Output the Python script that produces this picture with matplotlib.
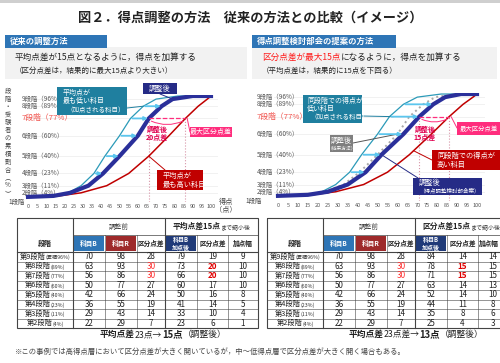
import matplotlib
matplotlib.use("Agg")
import matplotlib.pyplot as plt
from matplotlib.patches import Rectangle

plt.rcParams['font.family'] = ['Noto Sans CJK JP', 'DejaVu Sans']

# ---- table data (rows: 9th stage -> 2nd stage)
stage_names = ['第9段階', '第8段階', '第7段階', '第6段階', '第5段階', '第4段階', '第3段階', '第2段階']
stage_share = ['(累積96%)', '(89%)', '(77%)', '(60%)', '(40%)', '(23%)', '(11%)', '(4%)']
subj_b = [70, 63, 56, 50, 42, 36, 29, 22]
subj_r = [98, 93, 86, 77, 66, 55, 43, 29]
gap_before = [28, 30, 30, 27, 24, 19, 14, 7]
b_after_mean = [79, 73, 66, 60, 50, 41, 33, 23]
gap_after_mean = [19, 20, 20, 17, 16, 14, 10, 6]
add_mean = [9, 10, 10, 10, 8, 5, 4, 1]
b_after_max = [84, 78, 71, 63, 52, 44, 35, 25]
gap_after_max = [14, 15, 15, 14, 14, 11, 8, 4]
add_max = [14, 15, 15, 13, 10, 8, 6, 3]

# ---- curve data (cumulative share % vs score)
chart_labels = ['9段階（96%）', '8段階（89%）', '7段階（77%）', '6段階（60%）',
                '5段階（40%）', '4段階（23%）', '3段階（11%）', '2段階（4%）']
cum_pct = [96, 89, 77, 60, 40, 23, 11, 4]
curve_pct = [0, 1, 4, 11, 23, 40, 60, 77, 89, 96, 99, 99]
curve_b = [0, 14, 22, 29, 36, 42, 50, 56, 63, 70, 82, 100]
curve_r = [0, 17, 29, 43, 55, 66, 77, 86, 93, 98, 100, 100]
curve_mean = [0, 14, 23, 33, 41, 50, 60, 66, 73, 79, 90, 100]
curve_max = [0, 15, 25, 35, 44, 52, 63, 71, 78, 84, 92, 100]
arrow_pct = [89, 77, 60, 40, 23]

TEAL = '#1f7f9f'
NAVY = '#252b86'
DRED = '#c00000'
PINK = '#ff2d7d'
CRIM = '#e0004f'
BLUE = '#2e75b6'
LBLUE = '#5cc6ee'

W, H = 500, 363
fig = plt.figure(figsize=(5, 3.63), dpi=100)
fig.patch.set_facecolor('white')

# overlay in pixel units
ov = fig.add_axes([0, 0, 1, 1], zorder=10)
ov.set_xlim(0, W)
ov.set_ylim(H, 0)
ov.axis('off')
ov.patch.set_alpha(0)

renderer = fig.canvas.get_renderer()


def rich(x, y, parts, ha='left'):
    arts = [ov.text(0, y, s, va='baseline', ha='left', **kw) for s, kw in parts]
    ws = [a.get_window_extent(renderer).width for a in arts]
    cx = x - sum(ws) / 2 if ha == 'center' else x
    for a, w in zip(arts, ws):
        a.set_x(cx)
        cx += w


def box(x0, y0, x1, y1, color, **kw):
    ov.add_patch(Rectangle((x0, y0), x1 - x0, y1 - y0, facecolor=color,
                           edgecolor='none', **kw))


# top rule, title
box(0, 0, W, 2.5, '#cfcfcf')
ov.text(250, 18, '図２．得点調整の方法　従来の方法との比較（イメージ）', ha='center',
        va='center', fontsize=9.5, fontweight='bold', color='#222222')

# section headers and subtitle bands
box(5, 47, 247, 79, '#f2f2f2')
box(252, 47, 497, 79, '#f2f2f2')
box(5, 35, 107, 47.5, BLUE)
box(252, 35, 396, 47.5, BLUE)
ov.text(10, 41.5, '従来の調整方法', color='white', fontsize=6, fontweight='bold', va='center')
ov.text(257, 41.5, '得点調整検討部会の提案の方法', color='white', fontsize=6,
        fontweight='bold', va='center')
ov.text(15, 57, '平均点差が15点となるように，得点を加算する', fontsize=6.2, va='center', color='#222')
ov.text(15, 71, '（区分点差は，結果的に最大15点より大きい）', fontsize=5.4, va='center', color='#222')
rich(262, 60, [('区分点差が最大15点', dict(fontsize=6.2, color='#ff1a1a')),
               ('になるように，得点を加算する', dict(fontsize=6.2, color='#222'))])
ov.text(262, 71, '（平均点差は，結果的に15点を下回る）', fontsize=5.4, va='center', color='#222')


def chart(x0px, x100px, ybot, ytop):
    sx = (x100px - x0px) / 100.0
    left = x0px - 2 * sx
    width = 106 * sx
    ax = fig.add_axes([left / W, (H - ybot) / H, width / W, (ybot - ytop) / H], zorder=1)
    ax.set_xlim(-2, 104)
    ax.set_ylim(-5, 100)
    ax.patch.set_alpha(0)
    for s in ax.spines.values():
        s.set_visible(False)
    ax.set_xticks(range(0, 101, 5))
    ax.tick_params(axis='x', length=0, labelsize=4, labelcolor='#555555', pad=1.5)
    ax.set_yticks([])
    for p in cum_pct:
        ax.axhline(p, color='#ececec', lw=0.5, zorder=0)
    return ax, left, width


def ylabels(ax, left, width, xlab, xone):
    tr = ax.get_yaxis_transform()
    for lab, p in zip(chart_labels, cum_pct):
        red = lab.startswith('7')
        ax.text((xlab - left) / width, p, lab, transform=tr, va='center', ha='left',
                fontsize=5.6 if red else 4.6, color='#f0504a' if red else '#555555',
                clip_on=False)
    ax.text((xone - left) / width, 0, '1段階', transform=ax.transAxes, va='center',
            ha='left', fontsize=4.6, color='#444444', clip_on=False)


def gap_marks(ax, lo, hi, p):
    for s in (lo, hi):
        ax.plot([s, s], [-5, p], ls=':', color='#d795a8', lw=0.8, zorder=2)
    ax.plot([lo, hi], [p, p], ls='--', color=PINK, lw=0.9, zorder=4)
    ax.annotate('', xy=(hi, p - 1.5), xytext=(lo, p - 1.5),
                arrowprops=dict(arrowstyle='-', color=PINK, lw=0.7,
                                connectionstyle='arc3,rad=0.25'))


def arrows(ax, src, dst):
    for p in arrow_pct:
        i = cum_pct.index(p)
        ax.annotate('', xy=(dst[i] - 0.5, p), xytext=(src[i] + 1, p),
                    arrowprops=dict(arrowstyle='-|>', color=LBLUE, lw=1.3,
                                    mutation_scale=5, shrinkA=0, shrinkB=0), zorder=5)


def connect(ax, xy, px, color):
    ax.annotate('', xy=xy, xytext=px, textcoords=ov.transData,
                arrowprops=dict(arrowstyle='-', color=color, lw=0.7, shrinkA=0, shrinkB=0))


i7 = cum_pct.index(77)

# ---- left chart
axl, l_left, l_w = chart(28, 211, 202, 95)
axl.plot(curve_b, curve_pct, color='#2b9ab8', lw=0.9, zorder=3)
axl.plot(curve_r, curve_pct, color=DRED, lw=1.1, zorder=3)
axl.plot(curve_mean, curve_pct, color='#2a2f9a', lw=3.0, zorder=4)
arrows(axl, subj_b, b_after_mean)
gap_marks(axl, b_after_mean[i7], subj_r[i7], 77)
ylabels(axl, l_left, l_w, 22, 8)
connect(axl, (subj_b[1], 89), (127, 108), TEAL)
connect(axl, (b_after_mean[0], 96), (160, 94), NAVY)
connect(axl, (subj_r[i7] + 1, 77), (190, 132), PINK)
connect(axl, (subj_r[4], 40), (165, 170), DRED)
ov.text(8, 142, '\n'.join('段階・受験者の累積割合') + '\n︵\n%\n︶', fontsize=4.6,
        color='#444444', ha='center', va='center', linespacing=0.98)
ov.text(226, 206, '得点\n（点）', fontsize=5.2, color='#444444', ha='center',
        va='center', linespacing=1.1)

# left callouts
box(57, 87, 127, 115, TEAL)
ov.text(63, 93, '平均点が', color='white', fontsize=5, va='center')
ov.text(63, 101.5, '最も低い科目', color='white', fontsize=5, va='center')
ov.text(66, 110, '（加点される科目）', color='white', fontsize=4.7, va='center')
box(143, 83, 177, 94, NAVY)
ov.text(160, 88.5, '調整後', color='white', fontsize=5.2, va='center', ha='center')
box(190, 127, 232, 137, PINK)
ov.text(211, 132, '最大区分点差', color='white', fontsize=5, va='center', ha='center')
ov.text(157, 133, '調整後\n20点差', color=CRIM, fontsize=5, fontweight='bold',
        va='center', ha='center', linespacing=1.1)
box(157, 170, 203, 190, DRED)
ov.text(163, 175.5, '平均点が', color='white', fontsize=5.2, va='center')
ov.text(163, 184.5, '最も高い科目', color='white', fontsize=5.2, va='center')

# ---- right chart
axr, r_left, r_w = chart(278, 477, 201, 93)
axr.plot(curve_b, curve_pct, color='#2b9ab8', lw=0.9, zorder=3)
axr.plot(curve_r, curve_pct, color=DRED, lw=1.1, zorder=3)
axr.plot(curve_mean, curve_pct, color='#a8a8a8', lw=1.4, ls=':', zorder=3)
axr.plot(curve_max, curve_pct, color='#2a2f9a', lw=3.0, zorder=4)
arrows(axr, subj_b, b_after_max)
gap_marks(axr, b_after_max[i7], subj_r[i7], 77)
ylabels(axr, r_left, r_w, 257, 245)
connect(axr, (subj_b[i7] + 2, 77), (362, 116), TEAL)
connect(axr, (b_after_mean[3], 60), (353, 143), '#555555')
connect(axr, (b_after_max[4], 40), (418, 178), NAVY)
connect(axr, (subj_r[i7] + 1, 77), (457, 128), PINK)
connect(axr, (subj_r[4] + 2, 44), (432, 160), DRED)

box(303, 95, 362, 123, TEAL)
ov.text(307, 100.5, '同段階での得点が', color='white', fontsize=5, va='center')
ov.text(307, 109, '低い科目', color='white', fontsize=5, va='center')
ov.text(310, 117.5, '（加点される科目）', color='white', fontsize=4.7, va='center')
box(330, 135, 353, 152, '#7f7f7f')
ov.text(341.5, 140.5, '調整後', color='white', fontsize=5, va='center', ha='center')
ov.text(341.5, 148, '（従来方法）', color='white', fontsize=3.4, va='center', ha='center')
box(457, 122, 506, 135, PINK)
ov.text(460, 128.5, '最大区分点差', color='white', fontsize=4.6, va='center')
ov.text(425, 133, '調整後\n15点差', color=CRIM, fontsize=5, fontweight='bold',
        va='center', ha='center', linespacing=1.1)
box(432, 150, 506, 170, DRED)
ov.text(437, 155.5, '同段階での得点が', color='white', fontsize=5.2, va='center')
ov.text(437, 164.5, '高い科目', color='white', fontsize=5.2, va='center')
box(413, 178, 482, 195, NAVY)
ov.text(419, 183, '調整後', color='white', fontsize=5.2, va='center')
ov.text(419, 191, '（得点調整検討部会案）', color='white', fontsize=4, va='center')


# ---- tables
def table(x0, title, after, gap_after, add):
    offs = [0, 56, 88, 120, 148, 180, 211, 241]
    xs = [x0 + o for o in offs]
    y0, y1, y2 = 218, 235, 252
    rh = 9.5
    ybot = y2 + rh * len(after)
    lc = '#444444'
    ov.add_patch(Rectangle((xs[0], y0), xs[-1] - xs[0], ybot - y0, fill=False,
                           edgecolor=lc, lw=0.8))
    ov.plot([xs[1], xs[-1]], [y1, y1], color=lc, lw=0.5)
    ov.plot([xs[0], xs[-1]], [y2, y2], color=lc, lw=0.8)
    for k in range(1, len(after)):
        yy = y2 + rh * k
        ov.plot([xs[0], xs[-1]], [yy, yy], color=lc, lw=0.4)
    for j, xx in enumerate(xs[1:-1], start=1):
        top = y0 if j in (1, 4) else y1
        ov.plot([xx, xx], [top, ybot], color=lc, lw=0.8 if j in (1, 4) else 0.4)
    # header cells
    for j, col in ((1, BLUE), (2, '#9e2a2b'), (4, '#203a78')):
        box(xs[j] + 1.2, y1 + 1.2, xs[j + 1] - 1.2, y2 - 1.2, col)
    ym = (y1 + y2) / 2
    ov.text((xs[0] + xs[1]) / 2, ym, '段階', fontsize=5, fontweight='bold',
            ha='center', va='center', color='#222')
    ov.text((xs[1] + xs[2]) / 2, ym, '科目B', fontsize=4.8, fontweight='bold',
            ha='center', va='center', color='white')
    ov.text((xs[2] + xs[3]) / 2, ym, '科目R', fontsize=4.8, fontweight='bold',
            ha='center', va='center', color='white')
    ov.text((xs[3] + xs[4]) / 2, ym, '区分点差', fontsize=4.8, fontweight='bold',
            ha='center', va='center', color='#222')
    ov.text((xs[4] + xs[5]) / 2, ym, '科目B\n加点後', fontsize=4.3, fontweight='bold',
            ha='center', va='center', color='white', linespacing=1.05)
    ov.text((xs[5] + xs[6]) / 2, ym, '区分点差', fontsize=4.8, fontweight='bold',
            ha='center', va='center', color='#222')
    ov.text(min((xs[6] + xs[7]) / 2, W - 11), ym, '加点幅', fontsize=4.8,
            fontweight='bold', ha='center', va='center', color='#222')
    ov.text((xs[1] + xs[4]) / 2, (y0 + y1) / 2, '調整前', fontsize=4.8,
            ha='center', va='center', color='#444')
    rich((xs[4] + xs[7]) / 2, (y0 + y1) / 2 + 2.3,
         [(title, dict(fontsize=5.6, fontweight='bold', color='#222')),
          ('まで縮小後', dict(fontsize=4.3, color='#333'))], ha='center')
    for k in range(len(after)):
        yc = y2 + rh * (k + 0.5)
        rich((xs[0] + xs[1]) / 2, yc + 2.2,
             [(stage_names[k], dict(fontsize=5.2, color='#222')),
              (stage_share[k], dict(fontsize=3.8, color='#333'))], ha='center')
        vals = [subj_b[k], subj_r[k], gap_before[k], after[k], gap_after[k], add[k]]
        for j, v in enumerate(vals, start=1):
            col, fw = '#222222', 'normal'
            if j == 3 and k in (1, 2):
                col = '#ff3030'
            if j == 5 and k in (1, 2):
                col, fw = '#e00000', 'bold'
            ov.text((xs[j] + xs[j + 1]) / 2, yc, str(v), fontsize=5.8, color=col,
                    fontweight=fw, ha='center', va='center')


table(17, '平均点差15点', b_after_mean, gap_after_mean, add_mean)
table(267, '区分点差15点', b_after_max, gap_after_max, add_max)

rich(163, 337, [('平均点差', dict(fontsize=6.3, fontweight='bold', color='#222')),
                ('23点→', dict(fontsize=6.3, color='#222')),
                ('15点', dict(fontsize=6.8, fontweight='bold', color='#222')),
                ('（調整後）', dict(fontsize=6.3, color='#222'))], ha='center')
rich(416, 337, [('平均点差', dict(fontsize=6.3, fontweight='bold', color='#222')),
                ('23点差→', dict(fontsize=6.3, color='#222')),
                ('13点', dict(fontsize=6.8, fontweight='bold', color='#222')),
                ('（調整後）', dict(fontsize=6.3, color='#222'))], ha='center')

ov.text(15, 352, '※この事例では高得点層において区分点差が大きく開いているが，中～低得点層で区分点差が大きく開く場合もある。',
        fontsize=5.3, color='#444444', va='center')

fig.savefig('out.png', dpi=100)
